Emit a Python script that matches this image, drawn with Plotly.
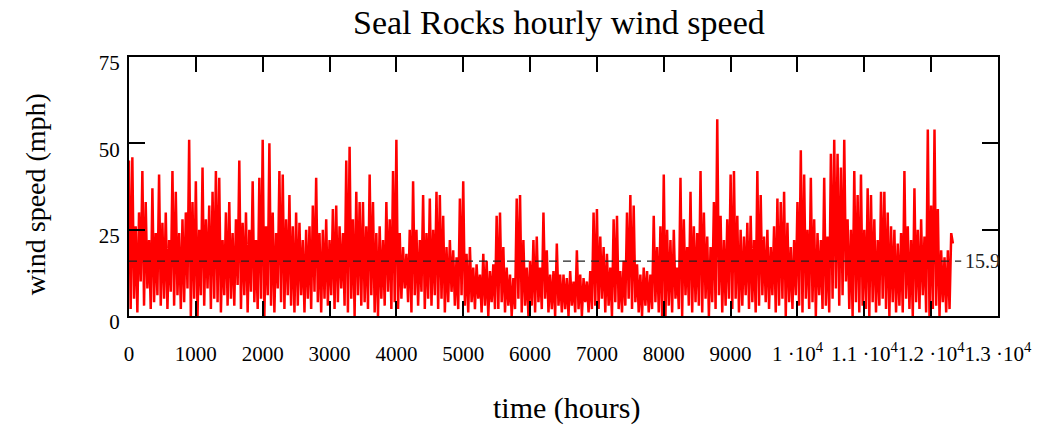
import numpy as np
import plotly.graph_objects as go

# Wind speed readings (mph): alternating local peak / trough,
# one pair per 50 hours (samples every 25 hours).
peaks_mph = [
    45, 46, 26, 30, 42, 33, 22, 37, 24, 41,
    27, 30, 22, 42, 36, 24, 28, 30, 51, 33,
    39, 25, 43, 28, 32, 36, 42, 40, 22, 30,
    33, 24, 28, 45, 27, 30, 25, 39, 22, 40,
    51, 26, 50, 30, 24, 42, 41, 28, 35, 26,
    30, 27, 22, 25, 26, 32, 40, 24, 25, 28,
    22, 31, 32, 26, 24, 45, 49, 28, 36, 33,
    33, 26, 41, 33, 24, 26, 22, 33, 28, 42,
    51, 24, 20, 18, 25, 39, 25, 22, 35, 24,
    34, 25, 36, 35, 29, 20, 22, 19, 17, 34,
    39, 18, 20, 14, 15, 12, 18, 16, 13, 15,
    29, 30, 20, 14, 12, 11, 34, 35, 22, 14,
    16, 22, 23, 14, 30, 19, 12, 13, 21, 12,
    12, 11, 13, 10, 19, 12, 11, 10, 13, 30,
    31, 23, 20, 18, 14, 28, 29, 13, 16, 30,
    35, 32, 15, 12, 14, 13, 12, 29, 20, 26,
    41, 25, 22, 25, 14, 40, 28, 20, 36, 26,
    24, 42, 30, 23, 20, 33, 57, 29, 22, 28,
    41, 42, 29, 25, 23, 27, 29, 22, 42, 35,
    23, 25, 20, 26, 34, 33, 36, 27, 20, 22,
    33, 48, 41, 25, 40, 28, 24, 22, 40, 23,
    47, 51, 47, 43, 51, 28, 25, 42, 35, 41,
    25, 37, 35, 28, 22, 36, 36, 30, 26, 25,
    21, 24, 42, 26, 22, 37, 25, 28, 23, 54,
    32, 54, 31, 19, 17, 19, 24,
]
troughs_mph = [
    2, 5, 1, 10, 3, 8, 2, 4, 6, 3,
    5, 2, 7, 3, 6, 2, 4, 8, 0, 5,
    0, 6, 3, 8, 2, 5, 4, 1, 6, 3,
    5, 3, 9, 2, 6, 1, 7, 4, 2, 5,
    0, 6, 3, 1, 8, 4, 2, 6, 3, 1,
    3, 6, 1, 5, 2, 7, 4, 1, 5, 3,
    6, 2, 4, 8, 3, 1, 5, 0, 6, 3,
    4, 2, 6, 1, 0, 5, 3, 7, 2, 4,
    2, 5, 8, 4, 1, 6, 3, 7, 2, 5,
    3, 6, 2, 5, 1, 4, 7, 3, 2, 6,
    3, 1, 4, 2, 5, 1, 3, 0, 4, 2,
    2, 4, 1, 3, 0, 2, 5, 1, 3, 0,
    3, 1, 4, 2, 5, 1, 2, 0, 3, 1,
    2, 0, 3, 1, 2, 0, 4, 1, 2, 3,
    2, 5, 1, 3, 0, 4, 2, 1, 3, 5,
    2, 4, 1, 0, 3, 1, 2, 4, 1, 0,
    0, 3, 1, 5, 2, 0, 6, 3, 1, 4,
    3, 1, 5, 0, 4, 2, 6, 1, 3, 5,
    2, 5, 1, 3, 6, 2, 4, 1, 3, 6,
    4, 2, 6, 1, 3, 5, 0, 4, 2, 6,
    3, 1, 5, 2, 4, 0, 6, 2, 3, 1,
    5, 8, 3, 6, 10, 2, 0, 4, 1, 3,
    2, 0, 4, 1, 3, 5, 2, 0, 4, 1,
    3, 1, 5, 2, 0, 4, 2, 6, 1, 0,
    2, 3, 0, 4, 1, 2, 21,
]
sample_step_hours = 25
mean_mph = 15.9

x_tick_vals = list(range(0, 13001, 1000))
x_tick_text = ["0", "1000", "2000", "3000", "4000", "5000", "6000", "7000",
               "8000", "9000", "1 \u00b710<sup>4</sup>", "1.1 \u00b710<sup>4</sup>",
               "1.2 \u00b710<sup>4</sup>", "1.3 \u00b710<sup>4</sup>"]
y_tick_vals = [0, 25, 50, 75]

# build the series
wind = []
for p, t in zip(peaks_mph, troughs_mph):
    wind += [p, t]
wind = np.array(wind, dtype=float)
hours = np.arange(len(wind)) * sample_step_hours

SERIF = "Liberation Serif, Times New Roman, serif"

fig = go.Figure()
fig.add_trace(go.Scatter(x=hours, y=wind, mode="lines",
                         line=dict(color="#ff0000", width=2.5),
                         hoverinfo="skip", showlegend=False))

fig.add_shape(type="line", xref="x", yref="y", x0=0, x1=12450,
              y0=mean_mph, y1=mean_mph,
              line=dict(color="#222222", width=1.3, dash="8px,6px"), layer="above")
fig.add_annotation(x=12450, y=mean_mph, xref="x", yref="y", text="15.9",
                   showarrow=False, xanchor="left", yanchor="middle", xshift=2,
                   font=dict(family=SERIF, size=20, color="#222222"))

axis_common = dict(showline=True, linecolor="black", linewidth=2, mirror="ticks",
                   ticks="inside", tickcolor="black", tickwidth=2,
                   showgrid=False, zeroline=False,
                   tickfont=dict(family=SERIF, size=21, color="black"))

fig.update_xaxes(range=[0, 13000], tickmode="array", tickvals=x_tick_vals,
                 ticktext=x_tick_text, ticklen=15, ticklabelstandoff=18,
                 tickangle=0, **axis_common)
fig.update_yaxes(range=[0, 75], tickmode="array", tickvals=y_tick_vals,
                 ticklen=16, ticklabelstandoff=3, ticklabelshift=6,
                 **axis_common)

fig.add_annotation(xref="paper", yref="paper", x=0.495, y=1.0, yshift=35,
                   text="Seal Rocks hourly wind speed", showarrow=False,
                   xanchor="center", yanchor="middle",
                   font=dict(family=SERIF, size=34, color="black"))
fig.add_annotation(xref="paper", yref="paper", x=0.504, y=0, yshift=-92,
                   text="time (hours)", showarrow=False,
                   xanchor="center", yanchor="middle",
                   font=dict(family=SERIF, size=30, color="black"))
fig.add_annotation(xref="paper", yref="paper", x=0, y=0.47, xshift=-94,
                   text="wind speed (mph)", showarrow=False, textangle=-90,
                   xanchor="center", yanchor="middle",
                   font=dict(family=SERIF, size=28, color="black"))

fig.update_layout(width=1044, height=425,
                  margin=dict(l=129, r=37, t=57, b=109),
                  paper_bgcolor="white", plot_bgcolor="white",
                  showlegend=False)

fig.write_html("out.html")
